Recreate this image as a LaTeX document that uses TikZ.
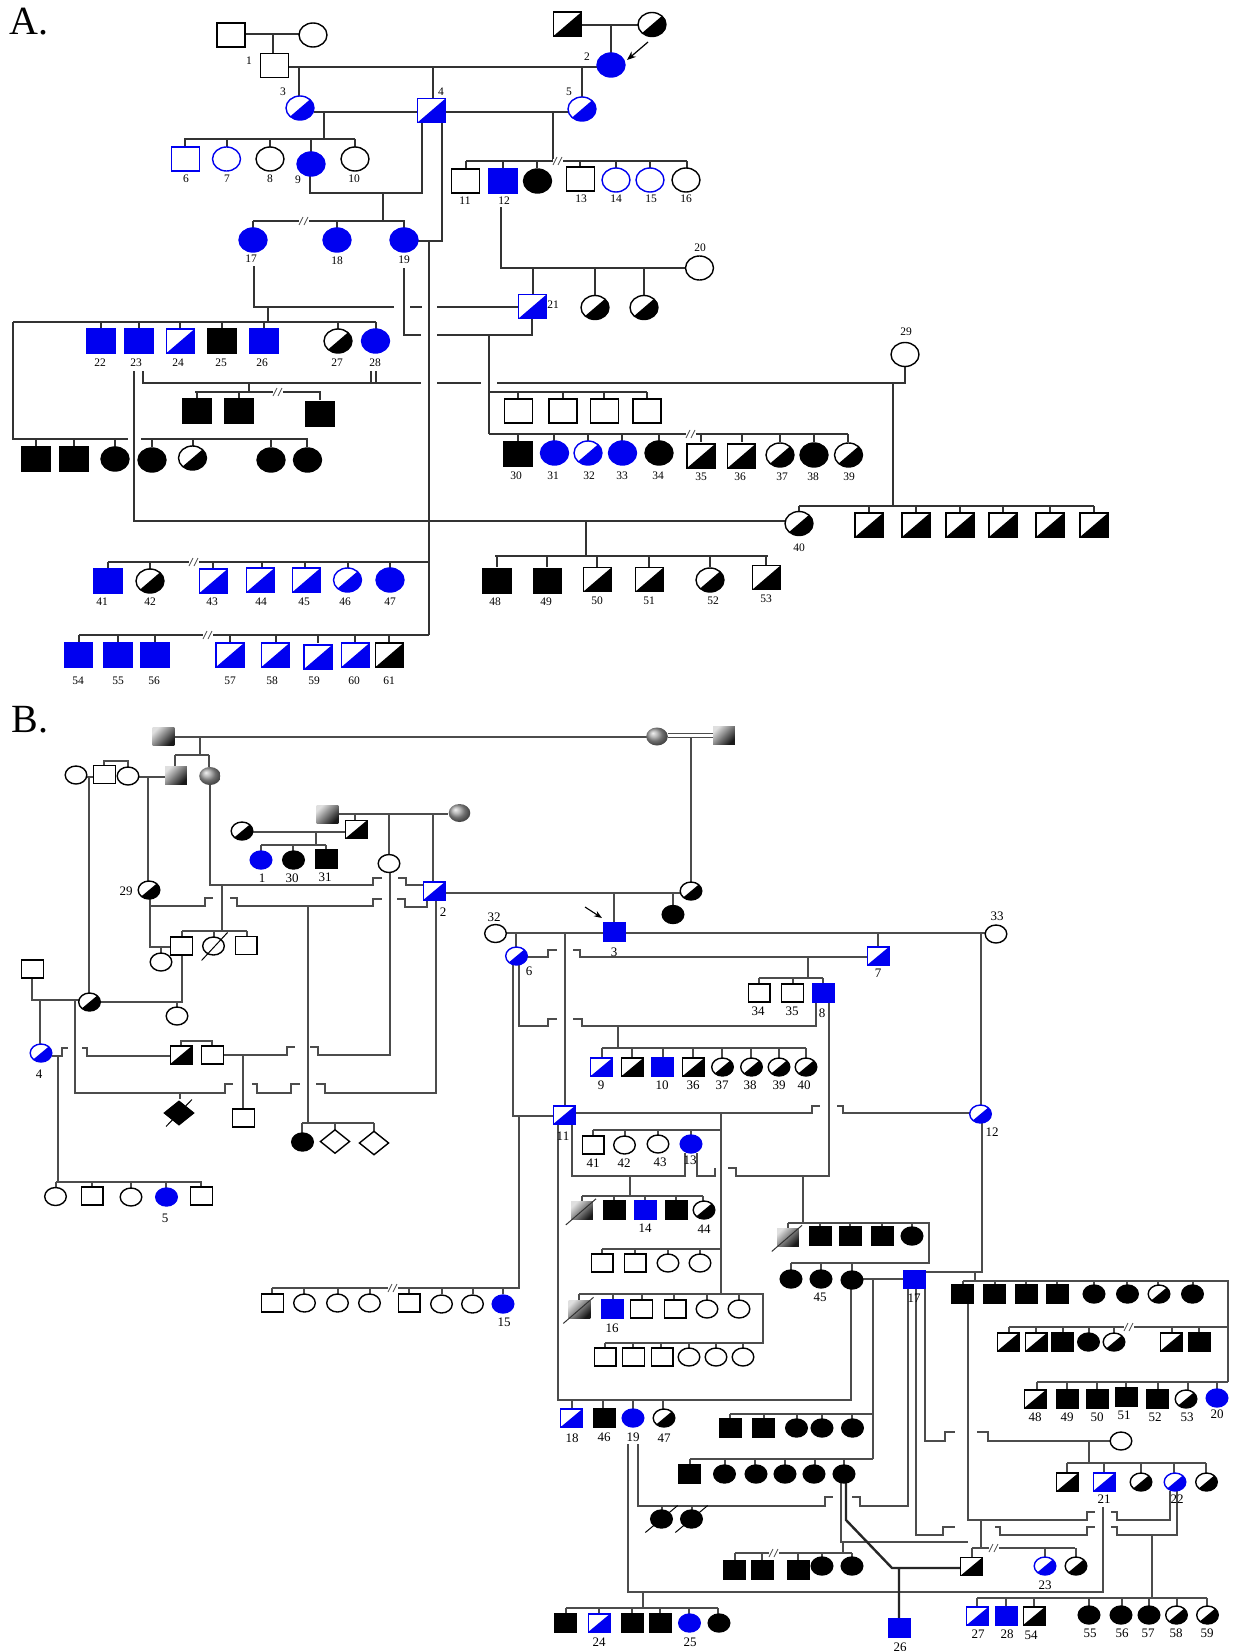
\documentclass[tikz,border=0pt]{standalone}
\usepackage{fontspec}
\setmainfont{Liberation Serif}
\usetikzlibrary{arrows.meta}
\definecolor{pblue}{RGB}{0,0,240}
\newcounter{indc}\newcounter{labc}
\def\W{14}\def\H{12}
\tikzset{
  sym/.style={line width=1.4pt},
  la/.style={line width=1.3pt,draw=black!80},
  lb/.style={line width=1.1pt,draw=black!70},
  lbt/.style={line width=2.4pt,draw=black!85},
  labA/.style={font=\fontsize{11.5}{11.5}\selectfont,inner sep=0pt},
  labB/.style={font=\fontsize{13}{13}\selectfont,inner sep=0pt},
  lab/.style={labA},
  gshade/.style={left color=gray!25,right color=black!90,shading angle=45},
  sqo/.pic={\draw[sym,fill=white] (-\W,-\H) rectangle (\W,\H);},
  sqbo/.pic={\draw[sym,draw=pblue,fill=white] (-\W,-\H) rectangle (\W,\H);},
  sqk/.pic={\draw[sym,fill=black] (-\W,-\H) rectangle (\W,\H);},
  sqb/.pic={\draw[sym,draw=pblue,fill=pblue] (-\W,-\H) rectangle (\W,\H);},
  sqhk/.pic={\fill[white] (-\W,-\H) rectangle (\W,\H);
     \fill[black] (-\W,\H) -- (\W,\H) -- (\W,-\H) -- cycle;
     \draw[sym] (-\W,-\H) rectangle (\W,\H);},
  sqhb/.pic={\fill[white] (-\W,-\H) rectangle (\W,\H);
     \fill[pblue] (-\W,\H) -- (\W,\H) -- (\W,-\H) -- cycle;
     \draw[sym,pblue] (-\W,-\H) rectangle (\W,\H);},
  sqg/.pic={\shade[gshade] (-\W,-\H) rectangle (\W,\H);},
  sqgs/.pic={\shade[gshade] (-\W,-\H) rectangle (\W,\H);
     \draw[line width=1pt,black!80] (-1.5*\W,1.6*\H) -- (1.3*\W,-1.3*\H);},
  cio/.pic={\draw[sym,fill=white] (0,0) ellipse [x radius=\W,y radius=\H];},
  cibo/.pic={\draw[sym,draw=pblue,fill=white] (0,0) ellipse [x radius=\W,y radius=\H];},
  cik/.pic={\draw[sym,fill=black] (0,0) ellipse [x radius=\W,y radius=\H];},
  cib/.pic={\draw[sym,draw=pblue,fill=pblue] (0,0) ellipse [x radius=\W,y radius=\H];},
  cihk/.pic={\fill[white] (0,0) ellipse [x radius=\W,y radius=\H];
     \begin{scope}\clip (0,0) ellipse [x radius=\W,y radius=\H];
     \fill[black] (-\W,\H) -- (\W,\H) -- (\W,-\H) -- cycle;\end{scope}
     \draw[sym] (0,0) ellipse [x radius=\W,y radius=\H];},
  cihb/.pic={\fill[white] (0,0) ellipse [x radius=\W,y radius=\H];
     \begin{scope}\clip (0,0) ellipse [x radius=\W,y radius=\H];
     \fill[pblue] (-\W,\H) -- (\W,\H) -- (\W,-\H) -- cycle;\end{scope}
     \draw[sym,pblue] (0,0) ellipse [x radius=\W,y radius=\H];},
  cig/.pic={\shade[ball color=gray!75] (0,0) ellipse [x radius=\W,y radius=\H];},
  ciks/.pic={\draw[sym,fill=black] (0,0) ellipse [x radius=\W,y radius=\H];
     \draw[line width=1pt] (-1.5*\W,1.5*\H) -- (1.5*\W,-1.5*\H);},
  cios/.pic={\draw[sym,fill=white] (0,0) ellipse [x radius=\W,y radius=\H];
     \draw[line width=1pt] (-1.1*\W,1.6*\H) -- (1.3*\W,-1.5*\H);},
  dio/.pic={\draw[sym,fill=white] (-1.35*\W,0) -- (0,-1.3*\H) -- (1.35*\W,0) -- (0,1.3*\H) -- cycle;},
  diks/.pic={\draw[sym,fill=black] (-1.35*\W,0) -- (0,-1.3*\H) -- (1.35*\W,0) -- (0,1.3*\H) -- cycle;
     \draw[line width=1pt] (-1.2*\W,1.5*\H) -- (1.2*\W,-1.5*\H);},
}
\newcommand{\ind}[3]{\stepcounter{indc}\coordinate (N\arabic{indc}) at (#2,#3);\pic at (#2,#3) {#1};}
\newcommand{\lab}[3]{\stepcounter{labc}\node[lab] (T\arabic{labc}) at (#1,#2) {#3};}
\newcommand{\brk}[2]{\fill[white] (#1-4,#2-2) rectangle (#1+6,#2+2);
  \draw[line width=0.8pt,black!70] (#1-4,#2+4)--(#1,#2-4) (#1+1,#2+4)--(#1+5,#2-4);}
\begin{document}
\begin{tikzpicture}[x=1pt,y=-1pt]
\fill[white] (0,0) rectangle (1233,1651);
\useasboundingbox (0,0) rectangle (1233,1651);
%================ PANEL A ================
\node[font=\fontsize{40}{40}\selectfont,inner sep=0pt] (headA) at (29,22) {A.};
\draw[la] (245,34)--(300,34) (273,34)--(273,54);
\draw[la] (581,25)--(638,25) (611,25)--(611,53);
\draw[la] (288,67)--(597,67);
\draw[la] (299,67)--(299,96) (433,67)--(433,98) (582,67)--(582,97);
\draw[la] (314,112)--(418,112) (445,112)--(568,112);
\draw[la] (324,112)--(324,139) (184,139)--(355,139);
\foreach \x in {185,227,270,355} \draw[la] (\x,139)--(\x,147);
\draw[la] (311,139)--(311,152);
\draw[la] (553,112)--(553,161) (466,161)--(687,161);
\foreach \x in {466,503,537,580,616,650,687} \draw[la] (\x,161)--(\x,168);
\brk{557}{161}
\draw[la] (310,176)--(310,193)--(422,193)--(422,122);
\draw[la] (383,193)--(383,221) (253,221)--(405,221);
\foreach \x in {253,337,404} \draw[la] (\x,221)--(\x,228);
\brk{303}{221}
\draw[la] (418,241)--(442,241)--(442,122);
\draw[la] (429,241)--(429,635);
\draw[la] (429,562)--(108,562);
\foreach \x in {108,150,213,262,305,348,390} \draw[la] (\x,562)--(\x,569);
\brk{193}{562}
\draw[la] (429,635)--(79,635);
\foreach \x in {79,118,155,230,276,318,355,389} \draw[la] (\x,635)--(\x,643);
\brk{207}{635}
\draw[la] (501,207)--(501,268)--(686,268);
\draw[la] (533,268)--(533,294) (595,268)--(595,296) (644,268)--(644,296);
\draw[la] (254,266)--(254,307)--(394,307) (410,307)--(422,307) (437,307)--(519,307);
\draw[la] (268,307)--(268,322) (13,322)--(376,322);
\foreach \x in {101,139,180,222,264,338,376} \draw[la] (\x,322)--(\x,329);
\draw[la] (13,322)--(13,439)--(128,439) (141,439)--(308,439);
\foreach \x in {36,74,115,152,193,271,307} \draw[la] (\x,439)--(\x,447);
\draw[la] (404,268)--(404,335)--(421,335) (437,335)--(532,335)--(532,319);
\draw[la] (489,335)--(489,434);
\draw[la] (489,392)--(647,392);
\foreach \x in {518,563,604,647} \draw[la] (\x,392)--(\x,399);
\draw[la] (489,434)--(848,434);
\foreach \x in {518,554,588,622,659,701,742,780,814,848} \draw[la] (\x,434)--(\x,442);
\brk{690}{434}
\draw[la] (134,371)--(134,521)--(785,521);
\draw[la] (143,371)--(143,383)--(421,383) (437,383)--(481,383) (497,383)--(905,383)--(905,366);
\draw[la] (371,371)--(371,383) (376,371)--(376,383);
\draw[la] (249,383)--(249,392) (195,392)--(321,392);
\foreach \x in {197,239,320} \draw[la] (\x,392)--(\x,400);
\brk{277}{392}
\draw[la] (893,383)--(893,506) (799,506)--(1094,506) (799,506)--(799,512);
\foreach \x in {869,916,960,1003,1050,1094} \draw[la] (\x,506)--(\x,513);
\draw[la] (586,521)--(586,556) (495,556)--(768,556);
\foreach \x in {497,547,597,649,710,766} \draw[la] (\x,556)--(\x,567);
\draw[-{Stealth[length=9pt,width=7pt]},line width=1.2pt] (648,42)--(627,60);
\ind{sqo}{231}{35} \ind{cio}{313}{35}
\ind{sqo}{274.5}{65.5}
\ind{sqhk}{567.5}{24} \ind{cihk}{652}{24.5}
\ind{cib}{611}{65}
\ind{cihb}{300}{108} \ind{sqhb}{431.5}{110.5} \ind{cihb}{582}{109}
\ind{sqbo}{185.5}{159} \ind{cibo}{226.5}{159} \ind{cio}{270}{159} \ind{cib}{311}{164} \ind{cio}{355}{159}
\ind{sqo}{465.5}{181} \ind{sqb}{503}{181} \ind{cik}{537.5}{181} \ind{sqo}{580.5}{179}
\ind{cibo}{616}{180} \ind{cibo}{650}{180} \ind{cio}{686}{180}
\ind{cib}{253}{240} \ind{cib}{337}{240} \ind{cib}{404}{240}
\ind{cio}{699.5}{268}
\ind{sqhb}{532.5}{306.5} \ind{cihk}{595}{307.5} \ind{cihk}{644}{307.5}
\ind{sqb}{101}{341} \ind{sqb}{139}{341} \ind{sqhb}{180.5}{341} \ind{sqk}{222}{341} \ind{sqb}{264}{341}
\ind{cihk}{338}{341} \ind{cib}{375.5}{341}
\ind{cio}{905}{354.5}
\ind{sqk}{197}{411} \ind{sqk}{239}{411} \ind{sqk}{320}{414}
\ind{sqk}{36}{459} \ind{sqk}{74}{459} \ind{cik}{115}{459} \ind{cik}{152}{460} \ind{cihk}{192.5}{458}
\ind{cik}{271}{460} \ind{cik}{307.5}{460}
\ind{sqo}{518.5}{411} \ind{sqo}{563}{411} \ind{sqo}{604.5}{411} \ind{sqo}{647}{411}
\ind{sqk}{518}{454} \ind{cib}{554.5}{453} \ind{cihb}{588}{453} \ind{cib}{622.5}{453} \ind{cik}{659}{453}
\ind{sqhk}{701}{456} \ind{sqhk}{741.5}{456} \ind{cihk}{780}{455} \ind{cik}{814}{455} \ind{cihk}{848.5}{455}
\ind{cihk}{799}{523.5}
\foreach \x in {869,916,960,1003,1050,1094} {\ind{sqhk}{\x}{525}}
\ind{sqk}{497}{581} \ind{sqk}{547.5}{581} \ind{sqhk}{597.5}{579.5} \ind{sqhk}{649.5}{579.5}
\ind{cihk}{710}{580} \ind{sqhk}{766.5}{577.5}
\ind{sqb}{108}{581} \ind{cihk}{150}{581} \ind{sqhb}{213.5}{581} \ind{sqhb}{260.5}{580} \ind{sqhb}{306.5}{580}
\ind{cihb}{347.5}{580} \ind{cib}{390}{580}
\ind{sqb}{78.5}{655} \ind{sqb}{118}{655} \ind{sqb}{155}{655}
\ind{sqhb}{230}{655} \ind{sqhb}{275.5}{655} \ind{sqhb}{318}{657} \ind{sqhb}{355.5}{655} \ind{sqhk}{389.5}{655}
\lab{249}{61}{1} \lab{587}{57}{2} \lab{283}{92}{3} \lab{441}{92}{4} \lab{569}{92}{5}
\lab{186}{179}{6} \lab{227}{179}{7} \lab{270}{179}{8} \lab{298}{180}{9} \lab{354}{179}{10}
\lab{465}{201}{11} \lab{504}{201}{12} \lab{581}{199}{13} \lab{616}{199}{14} \lab{651}{199}{15} \lab{686}{199}{16}
\lab{251}{259}{17} \lab{337}{261}{18} \lab{404}{260}{19} \lab{700}{248}{20} \lab{553}{305}{21}
\lab{100}{363}{22} \lab{136}{363}{23} \lab{178}{363}{24} \lab{221}{363}{25} \lab{262}{363}{26}
\lab{337}{363}{27} \lab{375}{363}{28} \lab{906}{332}{29}
\lab{516}{476}{30} \lab{553}{476}{31} \lab{589}{476}{32} \lab{622}{476}{33} \lab{658}{476}{34}
\lab{701}{477}{35} \lab{740}{477}{36} \lab{782}{477}{37} \lab{813}{477}{38} \lab{849}{477}{39}
\lab{799}{548}{40}
\lab{102}{602}{41} \lab{150}{602}{42} \lab{212}{602}{43} \lab{261}{602}{44} \lab{304}{602}{45}
\lab{345}{602}{46} \lab{390}{602}{47} \lab{495}{602}{48} \lab{546}{602}{49} \lab{597}{601}{50}
\lab{649}{601}{51} \lab{713}{601}{52} \lab{766}{599}{53}
\lab{78}{681}{54} \lab{118}{681}{55} \lab{154}{681}{56} \lab{230}{681}{57} \lab{272}{681}{58}
\lab{314}{681}{59} \lab{354}{681}{60} \lab{389}{681}{61}
%================ PANEL B ================
\def\W{10.8}\def\H{9}
\tikzset{lab/.style={labB}}
\node[font=\fontsize{40}{40}\selectfont,inner sep=0pt] (headB) at (30,720) {B.};
\draw[lb] (174,737)--(647,737);
\draw[lb] (668,733.5)--(713,733.5) (668,737.5)--(713,737.5);
\draw[lb] (200,737)--(200,755) (175,755)--(209,755) (175,755)--(175,766) (209,755)--(209,767);
\draw[lb] (87,777)--(94,777) (104,766)--(104,761)--(128,761)--(128,767) (138,777)--(166,777);
\draw[lb] (89,777)--(89,993);
\draw[lb] (148,777)--(148,881);
\draw[lb] (210,785)--(210,885)--(373,885)--(373,878)--(382,878) (398,878)--(406,878)--(406,885)--(423,885);
\draw[lb] (691,737)--(691,882);
\draw[lb] (338,814)--(448,814);
\draw[lb] (355,814)--(355,821) (389,814)--(389,855) (433,814)--(433,882);
\draw[lb] (253,832)--(345,832) (316,832)--(316,845) (261,845)--(326,845);
\foreach \x in {261,293,326} \draw[lb] (\x,845)--(\x,851);
\draw[lb] (150,899)--(150,947)--(171,947) (161,947)--(161,954);
\draw[lb] (150,906)--(205,906)--(205,898)--(213,898) (230,898)--(237,898)--(237,906)--(373,906)--(373,899)--(382,899) (397,899)--(405,899)--(405,907)--(427,907)--(427,900);
\draw[lb] (222,885)--(222,931) (182,931)--(247,931);
\foreach \x in {182,214,247} \draw[lb] (\x,931)--(\x,937);
\draw[lb] (182,955)--(182,1002)--(100,1002) (177,1002)--(177,1007);
\draw[lb] (32,978)--(32,1000)--(79,1000) (40,1000)--(40,1044);
\draw[lb] (75,1000)--(75,1093)--(225,1093)--(225,1084)--(233,1084) (252,1084)--(257,1084)--(257,1093)--(291,1093)--(291,1084)--(300,1084) (316,1084)--(325,1084)--(325,1093)--(436,1093)--(436,900);
\draw[lb] (180,1093)--(180,1099);
\draw[lb] (52,1056)--(62,1056)--(62,1048)--(68,1048) (82,1048)--(87,1048)--(87,1056)--(170,1056);
\draw[lb] (58,1056)--(58,1182) (56,1182)--(202,1182);
\foreach \x in {56,92,131,166,201} \draw[lb] (\x,1182)--(\x,1188);
\draw[lb] (181,1046)--(181,1041)--(212,1041)--(212,1046);
\draw[lb] (223,1055)--(287,1055)--(287,1047)--(295,1047) (310,1047)--(318,1047)--(318,1055)--(390,1055)--(390,872);
\draw[lb] (243,1055)--(243,1109);
\draw[lb] (308,906)--(308,1123) (302,1123)--(374,1123) (302,1123)--(302,1133) (335,1123)--(335,1130) (374,1123)--(374,1131);
\draw[lb] (445,893)--(680,893) (614,893)--(614,923) (673,893)--(673,906);
\draw[lb] (506,933)--(603,933) (625,933)--(985,933);
\draw[lb] (516,933)--(516,947) (878,933)--(878,947) (565,933)--(565,1106) (981,933)--(981,1105);
\draw[lb] (527,957)--(548,957)--(548,950)--(557,950) (573,950)--(580,950)--(580,957)--(867,957);
\draw[lb] (808,957)--(808,978) (759,978)--(823,978);
\foreach \x in {759,793,823} \draw[lb] (\x,978)--(\x,984);
\draw[lb] (519,965)--(519,1026)--(548,1026)--(548,1019)--(557,1019) (573,1019)--(582,1019)--(582,1026)--(816,1026)--(816,1002);
\draw[lb] (618,1026)--(618,1048) (602,1048)--(806,1048);
\foreach \x in {602,632,663,693,722,751,779,806} \draw[lb] (\x,1048)--(\x,1058);
\draw[lb] (513,965)--(513,1116)--(553,1116);
\draw[lb] (519,1116)--(519,1288)--(272,1288);
\foreach \x in {272,304,338,370,409,442,473,503} \draw[lb] (\x,1288)--(\x,1294);
\brk{392}{1288}
\draw[lb] (575,1113)--(812,1113)--(812,1106)--(820,1106) (837,1106)--(843,1106)--(843,1113)--(970,1113);
\draw[lb] (721,1113)--(721,1294) (593,1130)--(721,1130);
\foreach \x in {593,625,658,691} \draw[lb] (\x,1130)--(\x,1136);
\draw[lb] (572,1124)--(572,1176)--(685,1176)--(685,1153);
\draw[lb] (630,1176)--(630,1196) (582,1196)--(703,1196);
\foreach \x in {582,614,645,676,703} \draw[lb] (\x,1196)--(\x,1201);
\draw[lb] (697,1153)--(697,1176)--(715,1176)--(715,1168) (728,1168)--(736,1168)--(736,1176)--(829,1176)--(829,1002);
\draw[lb] (803,1176)--(803,1223);
\draw[lb] (602,1249)--(721,1249);
\foreach \x in {602,635,668,700} \draw[lb] (\x,1249)--(\x,1254);
\draw[lb] (579,1294)--(763,1294)--(763,1343)--(605,1343);
\foreach \x in {579,613,642,674,707,739} \draw[lb] (\x,1294)--(\x,1300);
\foreach \x in {605,633,661,689,716,743} \draw[lb] (\x,1343)--(\x,1348);
\draw[lb] (788,1223)--(929,1223)--(929,1263)--(791,1263);
\foreach \x in {788,820,850,882,912} \draw[lb] (\x,1223)--(\x,1228);
\foreach \x in {791,821,852} \draw[lb] (\x,1263)--(\x,1271);
\draw[lb] (863,1279)--(903,1279);
\draw[lb] (982,1123)--(982,1272)--(925,1272);
\draw[lb] (975,1272)--(975,1281) (963,1281)--(1228,1281)--(1228,1382);
\foreach \x in {963,995,1026,1057,1094,1127,1158,1193} \draw[lb] (\x,1281)--(\x,1285);
\draw[lb] (1009,1327)--(1228,1327);
\foreach \x in {1009,1036,1063,1089,1114,1172,1199} \draw[lb] (\x,1327)--(\x,1333);
\brk{1128}{1327}
\draw[lb] (1037,1382)--(1228,1382);
\foreach \x in {1037,1067,1097,1126,1158,1188,1217} \draw[lb] (\x,1382)--(\x,1390);
\draw[lb] (558,1124)--(558,1400)--(851,1400)--(851,1288);
\foreach \x in {572,603,633,663} \draw[lb] (\x,1400)--(\x,1409);
\draw[lb] (873,1279)--(873,1459) (730,1414)--(873,1414) (690,1459)--(873,1459);
\foreach \x in {730,764,797,822,852} \draw[lb] (\x,1414)--(\x,1419);
\foreach \x in {690,725,755,785,815,844} \draw[lb] (\x,1459)--(\x,1465);
\draw[lb] (638,1444)--(638,1506)--(825,1506)--(825,1497)--(833,1497) (852,1497)--(860,1497)--(860,1506)--(908,1506)--(908,1289);
\draw[lb] (662,1506)--(662,1510) (692,1506)--(692,1510);
\draw[lb] (628,1444)--(628,1592)--(1103,1592)--(1103,1507);
\draw[lb] (643,1592)--(643,1608) (566,1608)--(718,1608);
\foreach \x in {566,599,632,660,689,718} \draw[lb] (\x,1608)--(\x,1614);
\draw[lb] (925,1289)--(925,1441)--(945,1441)--(945,1432)--(955,1432) (977,1432)--(988,1432)--(988,1441)--(1110,1441);
\draw[lb] (1089,1441)--(1089,1463) (1067,1463)--(1206,1463);
\foreach \x in {1067,1104,1141,1174,1206} \draw[lb] (\x,1463)--(\x,1473);
\draw[lb] (968,1303)--(968,1520)--(1087,1520)--(1087,1512)--(1095,1512) (1111,1512)--(1117,1512)--(1117,1520)--(1170,1520)--(1170,1491);
\draw[lb] (916,1289)--(916,1535)--(943,1535)--(943,1527)--(955,1527) (995,1527)--(1000,1527)--(1000,1535)--(1087,1535)--(1087,1527)--(1095,1527) (1111,1527)--(1117,1527)--(1117,1535)--(1177,1535)--(1177,1491);
\draw[lb] (981,1520)--(981,1548) (972,1548)--(1075,1548);
\foreach \x in {972,1045,1076} \draw[lb] (\x,1548)--(\x,1557);
\brk{993}{1548}
\draw[lb] (1152,1535)--(1152,1598) (977,1598)--(1207,1598);
\foreach \x in {977,1006,1034,1089,1122,1149,1177,1207} \draw[lb] (\x,1598)--(\x,1607);
\draw[lb] (841,1483)--(841,1542)--(968,1542) (843,1542)--(843,1553) (735,1553)--(852,1553);
\foreach \x in {735,762,798,822,852} \draw[lb] (\x,1553)--(\x,1561);
\brk{773}{1553}
\draw[lbt] (846,1483)--(846,1520)--(892,1568)--(961,1568) (899,1568)--(899,1619);
\draw[-{Stealth[length=8pt,width=6pt]},line width=1.1pt] (585,907)--(602,918);
\ind{sqg}{163.5}{736} \ind{cig}{657}{736.5} \ind{sqg}{724}{735}
\ind{sqg}{176}{775} \ind{cig}{210}{776}
\ind{cio}{76}{775} \ind{sqo}{104.5}{774.5} \ind{cio}{128}{776}
\ind{sqg}{327.5}{814} \ind{cig}{459.5}{813}
\ind{sqhk}{356}{829.5} \ind{cio}{389}{863.5}
\ind{cihk}{242}{831}
\ind{cib}{261}{860} \ind{cik}{293.5}{860} \ind{sqk}{326}{859}
\ind{cihk}{149}{890}
\ind{sqhb}{434}{891}
\ind{sqo}{181.5}{946} \ind{cios}{213.5}{946} \ind{sqo}{246}{945.5}
\ind{cio}{161}{962} \ind{cio}{177}{1016}
\ind{sqo}{32.5}{969} \ind{cihk}{89.5}{1002}
\ind{cihb}{41}{1053}
\ind{sqhk}{181}{1055} \ind{sqo}{212.5}{1055}
\ind{diks}{179}{1113} \ind{sqo}{243.5}{1118}
\ind{cik}{302.5}{1142} \ind{dio}{335}{1141.5} \ind{dio}{374}{1143}
\ind{cio}{55.5}{1196.5} \ind{sqo}{92}{1196} \ind{cio}{131}{1197} \ind{cib}{166.5}{1197} \ind{sqo}{201.5}{1196}
\ind{cihk}{691}{891} \ind{cik}{673}{914.5}
\ind{sqb}{614}{932} \ind{cio}{495.5}{933.5} \ind{cio}{996}{934}
\ind{cihb}{516.5}{956} \ind{sqhb}{878}{956}
\ind{sqo}{759}{993} \ind{sqo}{792.5}{993} \ind{sqb}{823.5}{993}
\ind{sqhb}{601.5}{1067} \ind{sqhk}{632.5}{1067} \ind{sqb}{662.5}{1067} \ind{sqhk}{693.5}{1067}
\ind{cihk}{722.5}{1067} \ind{cihk}{751.5}{1067} \ind{cihk}{779}{1067} \ind{cihk}{806}{1067}
\ind{sqhb}{564}{1115} \ind{cihb}{980.5}{1114}
\ind{sqo}{593}{1145} \ind{cio}{624.5}{1145} \ind{cio}{658}{1144} \ind{cib}{691}{1144}
\ind{sqgs}{582}{1210.5} \ind{sqk}{614}{1210} \ind{sqb}{645}{1210} \ind{sqk}{676}{1210} \ind{cihk}{704}{1210}
\ind{sqo}{602}{1263} \ind{sqo}{635}{1263} \ind{cio}{668}{1263} \ind{cio}{700}{1263}
\ind{sqgs}{579.5}{1309} \ind{sqb}{612.5}{1309} \ind{sqo}{641.5}{1309} \ind{sqo}{675}{1309} \ind{cio}{707}{1309} \ind{cio}{739}{1309}
\ind{sqo}{605}{1357} \ind{sqo}{633.5}{1357} \ind{sqo}{662}{1357} \ind{cio}{689}{1357} \ind{cio}{716}{1357} \ind{cio}{743}{1357}
\ind{sqo}{272.5}{1303} \ind{cio}{304.5}{1303} \ind{cio}{337.5}{1303} \ind{cio}{369.5}{1303} \ind{sqo}{409}{1303}
\ind{cio}{441.5}{1304} \ind{cio}{472.5}{1304} \ind{cib}{503}{1304}
\ind{sqgs}{788}{1237} \ind{sqk}{820}{1236} \ind{sqk}{850}{1236} \ind{sqk}{882}{1236} \ind{cik}{912}{1236}
\ind{cik}{791}{1279} \ind{cik}{821}{1279} \ind{cik}{852}{1280}
\ind{sqb}{914}{1279.5}
\ind{sqk}{962.5}{1294} \ind{sqk}{994}{1294} \ind{sqk}{1026}{1294} \ind{sqk}{1057.5}{1294}
\ind{cik}{1094}{1294} \ind{cik}{1127.5}{1294} \ind{cihk}{1159}{1294} \ind{cik}{1192.5}{1294}
\ind{sqhk}{1008}{1342} \ind{sqhk}{1036}{1342} \ind{sqk}{1062.5}{1342} \ind{cik}{1088.5}{1342} \ind{cihk}{1114}{1342}
\ind{sqhk}{1171}{1342} \ind{sqk}{1199}{1342}
\ind{sqhk}{1035}{1399} \ind{sqk}{1067}{1399} \ind{sqk}{1097.5}{1399} \ind{sqk}{1126}{1397} \ind{sqk}{1157.5}{1399}
\ind{cihk}{1186}{1399} \ind{cib}{1217}{1398}
\ind{cio}{1121}{1441}
\ind{sqhk}{1067.5}{1482} \ind{sqhb}{1104}{1482} \ind{cihk}{1141}{1482} \ind{cihb}{1175}{1482} \ind{cihk}{1206.5}{1482}
\ind{sqhb}{571.5}{1418} \ind{sqk}{604}{1418} \ind{cib}{633}{1418} \ind{cihk}{664}{1418}
\ind{sqk}{730}{1428} \ind{sqk}{763.5}{1428} \ind{cik}{796.5}{1428} \ind{cik}{822}{1428} \ind{cik}{852.5}{1428}
\ind{sqk}{689}{1474} \ind{cik}{724.5}{1474} \ind{cik}{756}{1474} \ind{cik}{785}{1474} \ind{cik}{814}{1474} \ind{cik}{844}{1474}
\ind{ciks}{661.5}{1519} \ind{ciks}{691.5}{1519}
\ind{sqk}{734.5}{1570} \ind{sqk}{762}{1570} \ind{sqk}{798}{1570} \ind{cik}{822}{1566} \ind{cik}{852}{1566}
\ind{sqhk}{971.5}{1566.5} \ind{cihb}{1045}{1566} \ind{cihk}{1076}{1566}
\ind{sqb}{899.5}{1628}
\ind{sqk}{565}{1623} \ind{sqhb}{599}{1623} \ind{sqk}{632}{1623} \ind{sqk}{660}{1623} \ind{cib}{689.5}{1623} \ind{cik}{719}{1623}
\ind{sqhb}{977.5}{1616} \ind{sqb}{1006}{1616} \ind{sqhk}{1034}{1616}
\ind{cik}{1089}{1615} \ind{cik}{1121}{1615} \ind{cik}{1149}{1615} \ind{cihk}{1176.5}{1615} \ind{cihk}{1207.5}{1615}
\lab{262}{878}{1} \lab{292}{878}{30} \lab{325}{877}{31} \lab{126}{891}{29} \lab{443}{912}{2}
\lab{614}{952}{3} \lab{39}{1074}{4} \lab{165}{1218}{5} \lab{494}{917}{32} \lab{997}{916}{33}
\lab{529}{971}{6} \lab{878}{973}{7} \lab{758}{1011}{34} \lab{792}{1011}{35} \lab{822}{1013}{8}
\lab{601}{1085}{9} \lab{662}{1085}{10} \lab{693}{1085}{36} \lab{722}{1085}{37} \lab{750}{1085}{38}
\lab{779}{1085}{39} \lab{804}{1085}{40} \lab{563}{1136}{11} \lab{992}{1132}{12}
\lab{593}{1163}{41} \lab{624}{1163}{42} \lab{660}{1162}{43} \lab{690}{1160}{13}
\lab{645}{1228}{14} \lab{704}{1229}{44} \lab{504}{1322}{15} \lab{612}{1328}{16}
\lab{820}{1297}{45} \lab{914}{1298}{17}
\lab{1035}{1417}{48} \lab{1067}{1417}{49} \lab{1097}{1417}{50} \lab{1124}{1415}{51} \lab{1155}{1417}{52}
\lab{1187}{1417}{53} \lab{1217}{1414}{20} \lab{1104}{1499}{21} \lab{1177}{1499}{22}
\lab{572}{1438}{18} \lab{604}{1437}{46} \lab{633}{1437}{19} \lab{664}{1438}{47}
\lab{1045}{1585}{23} \lab{599}{1642}{24} \lab{690}{1642}{25} \lab{900}{1647}{26}
\lab{978}{1634}{27} \lab{1007}{1634}{28} \lab{1031}{1635}{54} \lab{1090}{1633}{55} \lab{1122}{1633}{56}
\lab{1148}{1633}{57} \lab{1176}{1633}{58} \lab{1207}{1633}{59}
\end{tikzpicture}
\end{document}
